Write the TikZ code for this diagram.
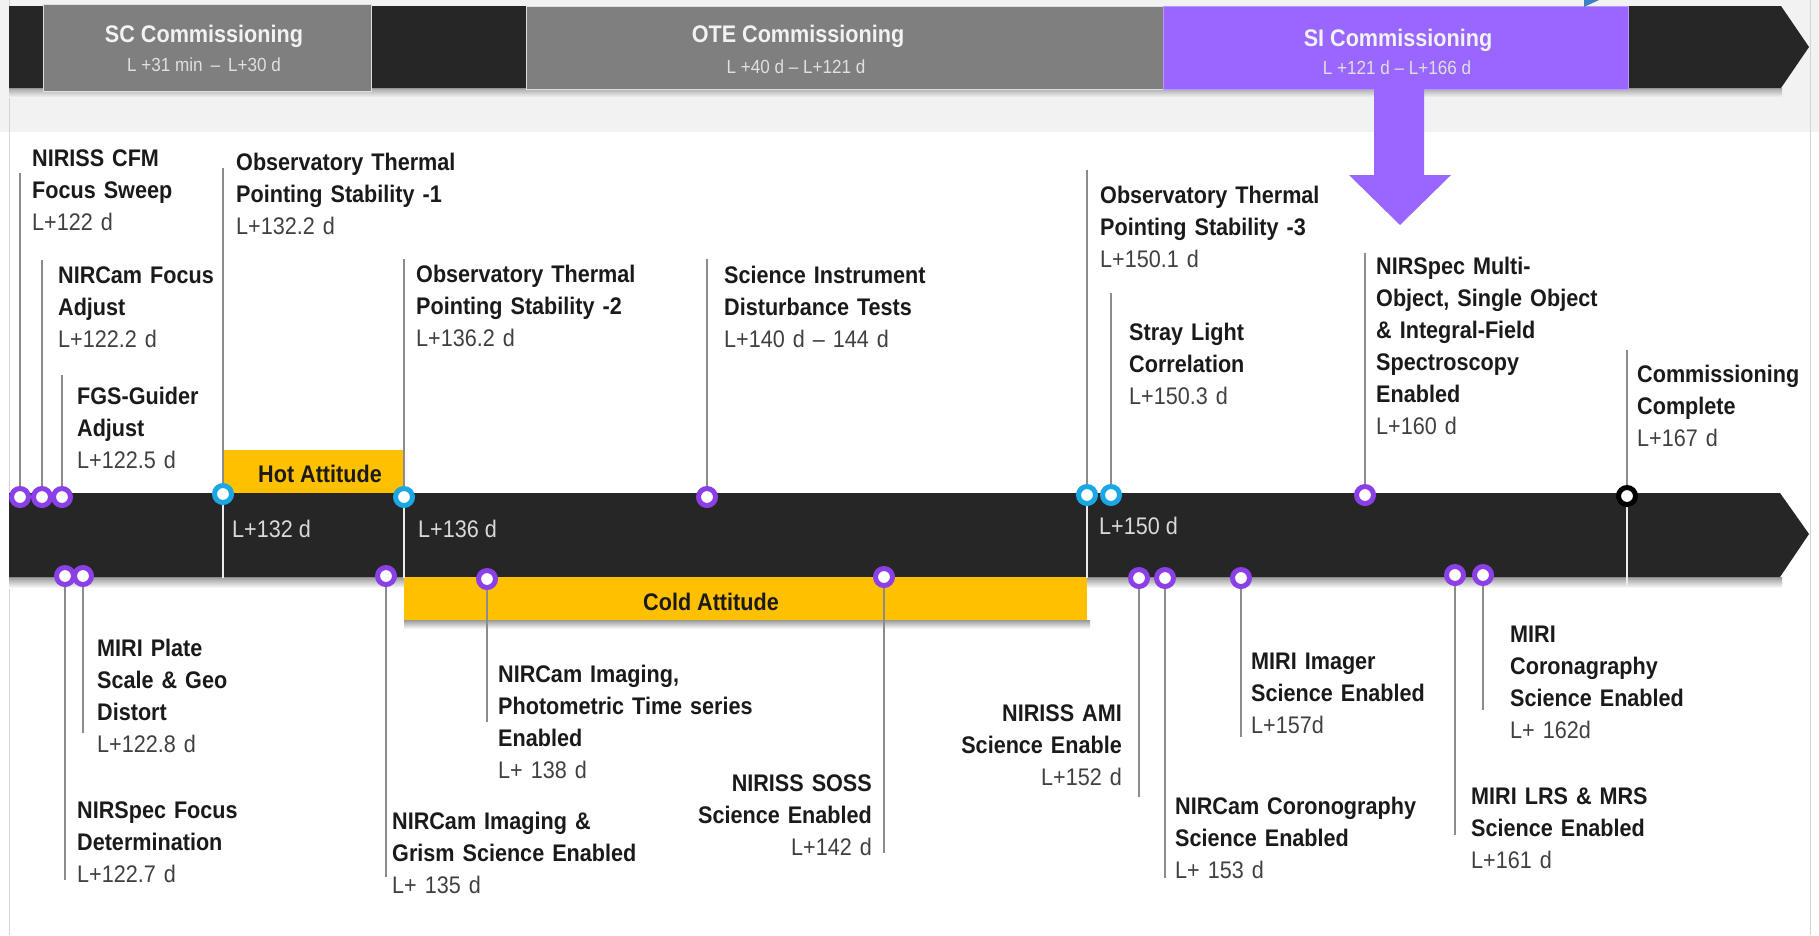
\documentclass[tikz,border=0pt]{standalone}
\usepackage{fontspec}
\setmainfont{Liberation Sans}[FakeStretch=0.9]
\pgfdeclarelayer{back}
\pgfdeclarelayer{mid}
\pgfsetlayers{back,mid,main}
\definecolor{barblack}{HTML}{262626}
\definecolor{phasegray}{HTML}{7F7F7F}
\definecolor{siviolet}{HTML}{9966FF}
\definecolor{bandgray}{HTML}{F2F2F2}
\definecolor{attyellow}{HTML}{FFC000}
\definecolor{ringpurple}{HTML}{8A40E6}
\definecolor{ringcyan}{HTML}{1BA7E3}
\definecolor{leadgray}{HTML}{8C8C8C}
\definecolor{datecol}{HTML}{404040}
\definecolor{titlecol}{HTML}{1A1A1A}
\definecolor{framegray}{HTML}{D4D4D4}
\definecolor{bluebit}{HTML}{3F7FC4}
\newcommand\evdate[1]{{\mdseries\color{datecol}#1}}
\tikzset{
  ring/.style={circle, draw=ringpurple, fill=white, line width=5pt, minimum size=17pt, inner sep=0pt},
  ringc/.style={ring, draw=ringcyan},
  ringk/.style={ring, draw=black},
  leader/.style={draw=leadgray, line width=1.5pt},
  sepline/.style={draw=white!92!black, line width=1.5pt},
  evl/.style={anchor=base west, inner sep=0pt, align=left, text width=330pt,
    font=\fontsize{24}{32}\selectfont, text=titlecol},
  evr/.style={evl, anchor=base east, align=right},
  phasebox/.style={rectangle, inner sep=0pt, draw=white!75!phasegray, line width=0.8pt},
  phasetitle/.style={anchor=base, inner sep=0pt, font=\fontsize{24}{28}\selectfont\bfseries, text=white!95!black},
  phasesub/.style={anchor=base, inner sep=0pt, font=\fontsize{19}{22}\selectfont, text=white!88!black},
  atttext/.style={anchor=base, inner sep=0pt, font=\fontsize{24}{28}\selectfont\bfseries, text=titlecol},
  barlabel/.style={anchor=base west, inner sep=0pt, font=\fontsize{24}{28}\selectfont, text=white!85!black}
}
\begin{document}
\begin{tikzpicture}[x=1pt,y=-1pt]
\useasboundingbox (0,0) rectangle (1819,935);
\begin{pgfonlayer}{back}
  \fill[white] (0,0) rectangle (1819,935);
  \fill[bandgray] (0,0) rectangle (1819,132);
  \draw[framegray, line width=1.5pt] (9.5,0) -- (9.5,935);
  \draw[framegray, line width=1.5pt] (1810.5,0) -- (1810.5,935);
  % top phase bar
  \shade[top color=black!35, bottom color=bandgray] (9,88) rectangle (1782,97);
  \fill[barblack] (9,6) -- (1781,6) -- (1809,47) -- (1781,88) -- (9,88) -- cycle;
  \node[phasebox, fill=phasegray, minimum width=328pt, minimum height=87pt] (scbox) at (207,47.5) {};
  \node[phasebox, fill=phasegray, minimum width=637pt, minimum height=83pt] (otebox) at (844.5,47.5) {};
  \node[phasebox, fill=siviolet, draw=siviolet!70!white, minimum width=465pt, minimum height=83pt] (sibox) at (1395.5,47.5) {};
  \fill[bluebit] (1584,0) -- (1599,0) -- (1584,7) -- cycle;
  % purple arrow from SI box
  \fill[siviolet] (1374,89) -- (1424,89) -- (1424,175) -- (1451,175) -- (1400,225)
     -- (1349,175) -- (1374,175) -- cycle;
  % main timeline bar
  \shade[top color=black!40, bottom color=white] (9,577) rectangle (1782,588);
  \fill[barblack] (9,493) -- (1780,493) -- (1809,534) -- (1780,577) -- (9,577) -- cycle;
  % attitude boxes
  \node[rectangle, fill=attyellow, inner sep=0pt, minimum width=181pt, minimum height=43pt] (hotbox) at (313.5,471.5) {};
  \shade[top color=black!40, bottom color=white] (404,620) rectangle (1090,629);
  \node[rectangle, fill=attyellow, inner sep=0pt, minimum width=683pt, minimum height=43pt] (coldbox) at (745.5,598.5) {};
\end{pgfonlayer}

% phase texts
\node[phasetitle] (sct) at (204,42) {SC Commissioning};
\node[phasesub] (scs) at (204,71) {L +31 min \,–\, L+30 d};
\node[phasetitle] (otet) at (798,42) {OTE Commissioning};
\node[phasesub] (otes) at (796,73) {L +40 d – L+121 d};
\node[phasetitle] (sit) at (1398,46) {SI Commissioning};
\node[phasesub] (sis) at (1397,74) {L +121 d – L+166 d};

% attitude labels
\node[atttext] (hott) at (320,482) {Hot Attitude};
\node[atttext] (coldt) at (711,610) {Cold Attitude};

% bar labels
\node[barlabel] (l132) at (232,537) {L+132 d};
\node[barlabel] (l136) at (418,537) {L+136 d};
\node[barlabel] (l150) at (1099,534) {L+150 d};

% upper markers
\node[ring]  (c1)  at (20,497) {};
\node[ring]  (c2)  at (42,497) {};
\node[ring]  (c3)  at (62,497) {};
\node[ringc] (c4)  at (223,494) {};
\node[ringc] (c5)  at (404,497) {};
\node[ring]  (c6)  at (707,497) {};
\node[ringc] (c7)  at (1087,495) {};
\node[ringc] (c8)  at (1111,495) {};
\node[ring]  (c9)  at (1365,495) {};
\node[ringk] (c10) at (1627,496) {};

% lower markers
\node[ring] (d1)  at (65,576) {};
\node[ring] (d2)  at (83,576) {};
\node[ring] (d3)  at (386,576) {};
\node[ring] (d4)  at (487,579) {};
\node[ring] (d5)  at (884,577) {};
\node[ring] (d6)  at (1139,578) {};
\node[ring] (d7)  at (1165,578) {};
\node[ring] (d8)  at (1241,578) {};
\node[ring] (d9)  at (1455,575) {};
\node[ring] (d10) at (1483,575) {};

% leader ends
\coordinate (u1) at (20,173);
\coordinate (u2) at (42,260);
\coordinate (u3) at (62,375);
\coordinate (u4) at (223,168);
\coordinate (u5) at (404,259);
\coordinate (u6) at (707,259);
\coordinate (u7) at (1087,170);
\coordinate (u8) at (1111,293);
\coordinate (u9) at (1365,253);
\coordinate (u10) at (1627,350);
\coordinate (s4) at (223,578);
\coordinate (s5) at (404,578);
\coordinate (s7) at (1087,578);
\coordinate (s10) at (1627,585);
\coordinate (w1) at (65,880);
\coordinate (w2) at (83,733);
\coordinate (w3) at (386,877);
\coordinate (w4) at (487,722);
\coordinate (w5) at (884,853);
\coordinate (w6) at (1139,797);
\coordinate (w7) at (1165,878);
\coordinate (w8) at (1241,737);
\coordinate (w9) at (1455,835);
\coordinate (w10) at (1483,710);

\begin{pgfonlayer}{mid}
  \foreach \i in {1,...,10} { \draw[leader] (u\i) -- (c\i); }
  \foreach \i in {4,5,7,10} { \draw[sepline] (c\i) -- (s\i); }
  \foreach \i in {1,...,10} { \draw[leader] (d\i) -- (w\i); }
\end{pgfonlayer}

% upper event labels
\node[evl] (t1) at (32,166) {\textbf{NIRISS CFM\\Focus Sweep}\\\evdate{L+122 d}};
\node[evl] (t2) at (58,283) {\textbf{NIRCam Focus\\Adjust}\\\evdate{L+122.2 d}};
\node[evl] (t3) at (77,404) {\textbf{FGS-Guider\\Adjust}\\\evdate{L+122.5 d}};
\node[evl] (t4) at (236,170) {\textbf{Observatory Thermal\\Pointing Stability -1}\\\evdate{L+132.2 d}};
\node[evl] (t5) at (416,282) {\textbf{Observatory Thermal\\Pointing Stability -2}\\\evdate{L+136.2 d}};
\node[evl] (t6) at (724,283) {\textbf{Science Instrument\\Disturbance Tests}\\\evdate{L+140 d – 144 d}};
\node[evl] (t7) at (1100,203) {\textbf{Observatory Thermal\\Pointing Stability -3}\\\evdate{L+150.1 d}};
\node[evl] (t8) at (1129,340) {\textbf{Stray Light\\Correlation}\\\evdate{L+150.3 d}};
\node[evl] (t9) at (1376,274) {\textbf{NIRSpec Multi-\\Object, Single Object\\\& Integral-Field\\Spectroscopy\\Enabled}\\\evdate{L+160 d}};
\node[evl] (t10) at (1637,382) {\textbf{Commissioning\\Complete}\\\evdate{L+167 d}};

% lower event labels
\node[evl] (b1) at (77,818) {\textbf{NIRSpec Focus\\Determination}\\\evdate{L+122.7 d}};
\node[evl] (b2) at (97,656) {\textbf{MIRI Plate\\Scale \& Geo\\Distort}\\\evdate{L+122.8 d}};
\node[evl] (b3) at (392,829) {\textbf{NIRCam Imaging \&\\Grism Science Enabled}\\\evdate{L+ 135 d}};
\node[evl] (b4) at (498,682) {\textbf{NIRCam Imaging,\\Photometric Time series\\Enabled}\\\evdate{L+ 138 d}};
\node[evr] (b5) at (872,791) {\textbf{NIRISS SOSS\\Science Enabled}\\\evdate{L+142 d}};
\node[evr] (b6) at (1122,721) {\textbf{NIRISS AMI\\Science Enable}\\\evdate{L+152 d}};
\node[evl] (b7) at (1175,814) {\textbf{NIRCam Coronography\\Science Enabled}\\\evdate{L+ 153 d}};
\node[evl] (b8) at (1251,669) {\textbf{MIRI Imager\\Science Enabled}\\\evdate{L+157d}};
\node[evl] (b9) at (1510,642) {\textbf{MIRI\\Coronagraphy\\Science Enabled}\\\evdate{L+ 162d}};
\node[evl] (b10) at (1471,804) {\textbf{MIRI LRS \& MRS\\Science Enabled}\\\evdate{L+161 d}};
\end{tikzpicture}
\end{document}
